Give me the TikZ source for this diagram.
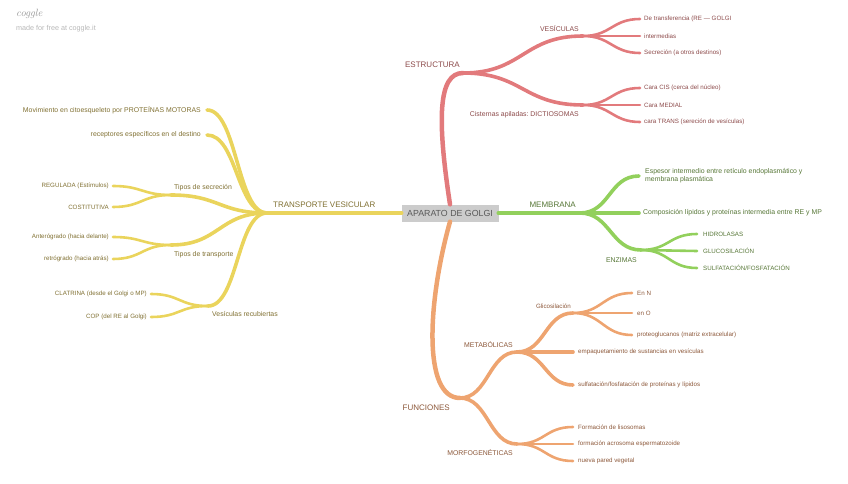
\documentclass[tikz,border=0pt]{standalone}
\usepackage{fontspec}
\setsansfont{Liberation Sans}
\usepackage{xcolor}
\usepackage{tikz}
\usetikzlibrary{positioning}

\definecolor{rojo}{RGB}{226,122,124}
\definecolor{rojotxt}{RGB}{140,74,74}
\definecolor{verde}{RGB}{146,208,92}
\definecolor{verdetxt}{RGB}{86,118,54}
\definecolor{amarillo}{RGB}{234,212,92}
\definecolor{amarillotxt}{RGB}{128,112,50}
\definecolor{naranja}{RGB}{238,164,112}
\definecolor{naranjatxt}{RGB}{140,88,58}

\begin{document}
\begin{tikzpicture}[
  x=1pt, y=-1pt,
  every node/.style={font=\sffamily, inner sep=1pt},
  trunk/.style={line width=4.5pt, line cap=round},
  twig/.style={line width=3.6pt, line cap=round},
  leafline/.style={line width=2.6pt, line cap=round},
  centre/.style={fill=gray!40, text=black!65, minimum width=97pt, minimum height=17pt,
                 inner sep=2pt, font=\sffamily\fontsize{8.8}{10}\selectfont},
  lvlone/.style={font=\sffamily\fontsize{8}{9}\selectfont},
  lvltwo/.style={font=\sffamily\fontsize{6.9}{8}\selectfont, align=left},
  leaf/.style={font=\sffamily\fontsize{6.2}{7.4}\selectfont, align=left}
]
  \useasboundingbox (0,0) rectangle (848,484);

  % Coggle header
  \node[anchor=west, text=black!40, font=\rmfamily\itshape\fontsize{10.5}{12}\selectfont] (cog) at (15,14) {coggle};
  \node[anchor=west, text=black!28, font=\sffamily\fontsize{7.2}{8}\selectfont] (cogweb) at (15,29) {made for free at coggle.it};

  % Central topic
  \node[centre] (golgi) at (450,213) {APARATO DE GOLGI};

  % Junctions and branch ends
  \coordinate (estr) at (463,73);
  \coordinate (ves)  at (583,36);
  \coordinate (cist) at (583,105);
  \coordinate (v1) at (640,19);  \coordinate (v2) at (640,36);  \coordinate (v3) at (640,53);
  \coordinate (c1) at (640,88);  \coordinate (c2) at (640,105); \coordinate (c3) at (640,122);

  \coordinate (memb) at (580,213);
  \coordinate (m1)  at (639,176);
  \coordinate (m2)  at (639,213);
  \coordinate (enz) at (641,250);
  \coordinate (e1) at (697,234); \coordinate (e2) at (697,251); \coordinate (e3) at (697,268);

  \coordinate (tv) at (267,213);
  \coordinate (y1) at (207,110);
  \coordinate (y2) at (207,135);
  \coordinate (ts) at (171,195);
  \coordinate (tt) at (171,245);
  \coordinate (vr) at (208,306);
  \coordinate (s1) at (113,186); \coordinate (s2) at (113,207);
  \coordinate (t1) at (113,237); \coordinate (t2) at (113,259);
  \coordinate (r1) at (151,294); \coordinate (r2) at (151,317);

  \coordinate (func) at (460,398);
  \coordinate (meta) at (517,352);
  \coordinate (morf) at (517,444);
  \coordinate (glic) at (573,313);
  \coordinate (emp)  at (573,352);
  \coordinate (sulf) at (573,385);
  \coordinate (g1) at (632,293); \coordinate (g2) at (632,313); \coordinate (g3) at (632,335);
  \coordinate (f1) at (573,427); \coordinate (f2) at (573,444); \coordinate (f3) at (573,461);

  % ESTRUCTURA
  \draw[trunk, rojo] (golgi.north) .. controls +(-13,-85) and +(-25,0) .. (estr);
  \draw[twig, rojo] (estr) .. controls +(60,0) and +(-60,0) .. (ves);
  \draw[twig, rojo] (estr) .. controls +(60,0) and +(-60,0) .. (cist);
  \foreach \p in {v1,v2,v3}
    \draw[leafline, rojo] (ves) .. controls +(28,0) and +(-28,0) .. (\p);
  \foreach \p in {c1,c2,c3}
    \draw[leafline, rojo] (cist) .. controls +(28,0) and +(-28,0) .. (\p);

  \node[lvlone, text=rojotxt, above left=4pt and 2pt of estr] (estrl) {ESTRUCTURA};
  \node[lvltwo, text=rojotxt, above left=3pt and 3pt of ves] (vesl) {VESÍCULAS};
  \node[lvltwo, text=rojotxt, below left=5pt and 3pt of cist] (cistl) {Cisternas apiladas:\ DICTIOSOMAS};
  \node[leaf, text=rojotxt, right=3pt of v1] (v1l) {De transferencia (RE — GOLGI};
  \node[leaf, text=rojotxt, right=3pt of v2] (v2l) {intermedias};
  \node[leaf, text=rojotxt, right=3pt of v3] (v3l) {Secreción (a otros destinos)};
  \node[leaf, text=rojotxt, right=3pt of c1] (c1l) {Cara CIS (cerca del núcleo)};
  \node[leaf, text=rojotxt, right=3pt of c2] (c2l) {Cara MEDIAL};
  \node[leaf, text=rojotxt, right=3pt of c3] (c3l) {cara TRANS (sereción de vesículas)};

  % MEMBRANA
  \draw[trunk, verde] (golgi.east) -- (memb);
  \foreach \p in {m1,m2,enz}
    \draw[twig, verde] (memb) .. controls +(30,0) and +(-30,0) .. (\p);
  \foreach \p in {e1,e2,e3}
    \draw[leafline, verde] (enz) .. controls +(28,0) and +(-28,0) .. (\p);

  \node[lvlone, text=verdetxt, above left=4pt and 3pt of memb] (membl) {MEMBRANA};
  \node[lvltwo, text=verdetxt, below left=6pt and 3pt of enz] (enzl) {ENZIMAS};
  \node[lvltwo, text=verdetxt, right=5pt of m1] (m1l) {Espesor intermedio entre retículo endoplasmático y\\membrana plasmática};
  \node[lvltwo, text=verdetxt, right=3pt of m2] (m2l) {Composición lípidos y proteínas intermedia entre RE y MP};
  \node[leaf, text=verdetxt, right=5pt of e1] (e1l) {HIDROLASAS};
  \node[leaf, text=verdetxt, right=5pt of e2] (e2l) {GLUCOSILACIÓN};
  \node[leaf, text=verdetxt, right=5pt of e3] (e3l) {SULFATACIÓN/FOSFATACIÓN};

  % TRANSPORTE VESICULAR
  \draw[trunk, amarillo] (golgi.west) -- (tv);
  \foreach \p in {y1,y2}
    \draw[twig, amarillo] (tv) .. controls +(-30,0) and +(30,0) .. (\p);
  \foreach \p in {ts,tt}
    \draw[twig, amarillo] (tv) .. controls +(-48,0) and +(48,0) .. (\p);
  \draw[twig, amarillo] (tv) .. controls +(-30,0) and +(30,0) .. (vr);
  \foreach \j/\p in {ts/s1,ts/s2,tt/t1,tt/t2,vr/r1,vr/r2}
    \draw[leafline, amarillo] (\j) .. controls +(-29,0) and +(29,0) .. (\p);

  \node[lvlone, text=amarillotxt, above right=4pt and 5pt of tv] (tvl) {TRANSPORTE VESICULAR};
  \node[lvltwo, text=amarillotxt, above right=3pt and 2pt of ts] (tsl) {Tipos de secreción};
  \node[lvltwo, text=amarillotxt, below right=5pt and 2pt of tt] (ttl) {Tipos de transporte};
  \node[lvltwo, text=amarillotxt, below right=4pt and 3pt of vr] (vrl) {Vesículas recubiertas};
  \node[lvltwo, text=amarillotxt, left=5pt of y1] (y1l) {Movimiento en citoesqueleto por PROTEÍNAS MOTORAS};
  \node[lvltwo, text=amarillotxt, left=5pt of y2] (y2l) {receptores específicos en el destino};
  \node[leaf, text=amarillotxt, left=3pt of s1] (s1l) {REGULADA (Estímulos)};
  \node[leaf, text=amarillotxt, left=3pt of s2] (s2l) {COSTITUTIVA};
  \node[leaf, text=amarillotxt, left=3pt of t1] (t1l) {Anterógrado (hacia delante)};
  \node[leaf, text=amarillotxt, left=3pt of t2] (t2l) {retrógrado (hacia atrás)};
  \node[leaf, text=amarillotxt, left=3pt of r1] (r1l) {CLATRINA (desde el Golgi o MP)};
  \node[leaf, text=amarillotxt, left=3pt of r2] (r2l) {COP (del RE al Golgi)};

  % FUNCIONES
  \draw[trunk, naranja] (golgi.south) .. controls +(-22,78) and +(-38,0) .. (func);
  \foreach \p in {meta,morf}
    \draw[twig, naranja] (func) .. controls +(28,0) and +(-28,0) .. (\p);
  \foreach \p in {glic,emp,sulf}
    \draw[twig, naranja] (meta) .. controls +(28,0) and +(-28,0) .. (\p);
  \foreach \p in {g1,g2,g3}
    \draw[leafline, naranja] (glic) .. controls +(29,0) and +(-29,0) .. (\p);
  \foreach \p in {f1,f2,f3}
    \draw[leafline, naranja] (morf) .. controls +(28,0) and +(-28,0) .. (\p);

  \node[lvlone, text=naranjatxt, below left=6pt and 9pt of func] (funcl) {FUNCIONES};
  \node[lvltwo, text=naranjatxt, above left=3pt and 3pt of meta] (metal) {METABÓLICAS};
  \node[lvltwo, text=naranjatxt, below left=4pt and 3pt of morf] (morfl) {MORFOGENÉTICAS};
  \node[leaf, text=naranjatxt, above left=3pt and 1pt of glic] (glicl) {Glicosilación};
  \node[leaf, text=naranjatxt, right=4pt of emp] (empl) {empaquetamiento de sustancias en vesículas};
  \node[leaf, text=naranjatxt, right=4pt of sulf] (sulfl) {sulfatación/fosfatación de proteínas y lípidos};
  \node[leaf, text=naranjatxt, right=4pt of g1] (g1l) {En N};
  \node[leaf, text=naranjatxt, right=4pt of g2] (g2l) {en O};
  \node[leaf, text=naranjatxt, right=4pt of g3] (g3l) {proteoglucanos (matriz extracelular)};
  \node[leaf, text=naranjatxt, right=4pt of f1] (f1l) {Formación de lisosomas};
  \node[leaf, text=naranjatxt, right=4pt of f2] (f2l) {formación acrosoma espermatozoide};
  \node[leaf, text=naranjatxt, right=4pt of f3] (f3l) {nueva pared vegetal};
\end{tikzpicture}
\end{document}
